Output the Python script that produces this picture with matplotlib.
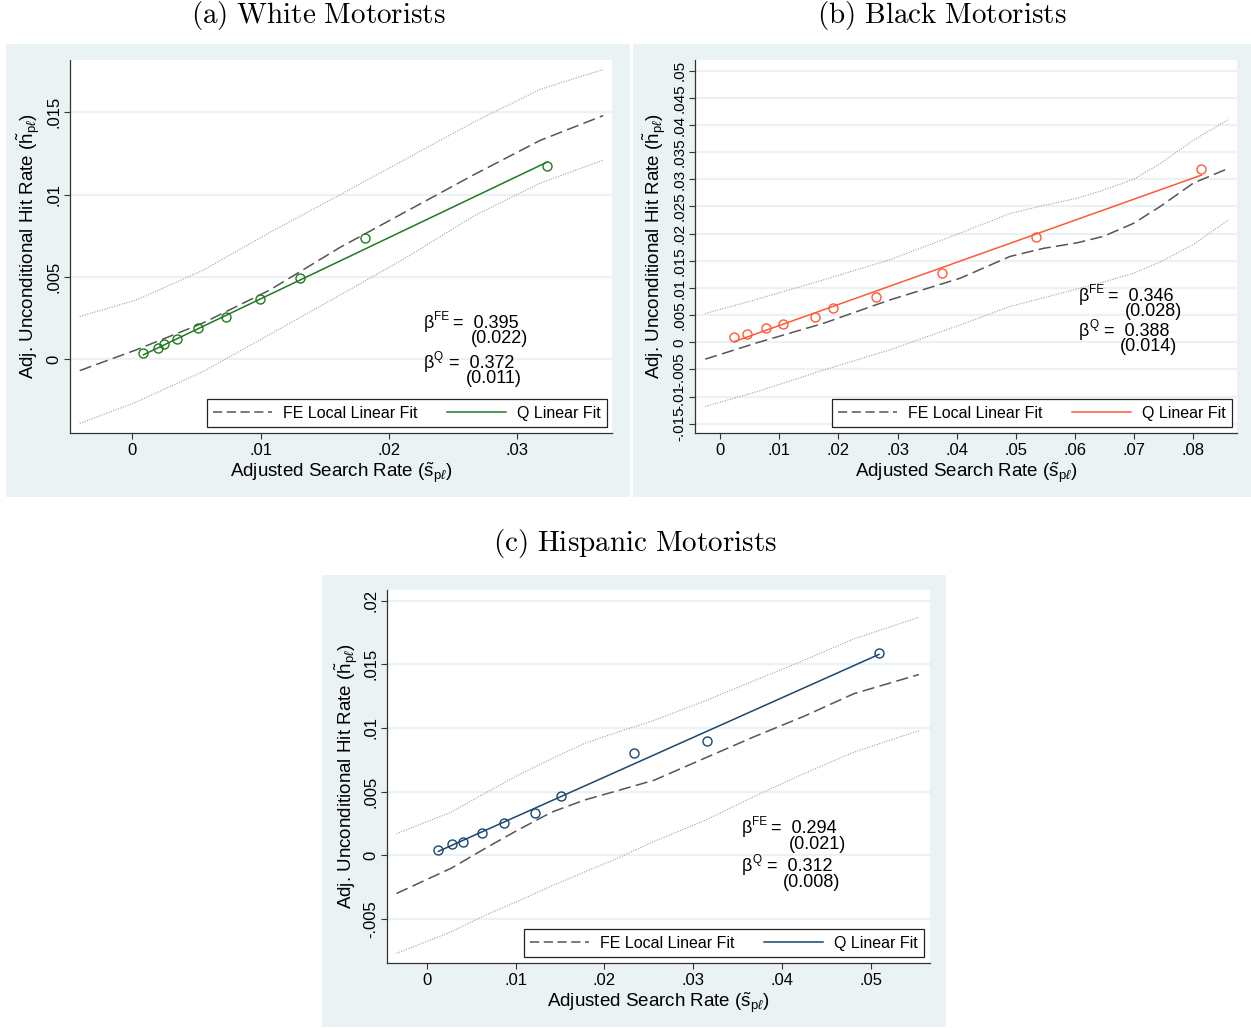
import matplotlib
matplotlib.use('Agg')
import matplotlib.pyplot as plt
from matplotlib.patches import Rectangle
from matplotlib.lines import Line2D

plt.rcParams['font.family'] = ['Liberation Sans', 'DejaVu Sans']
plt.rcParams['mathtext.fontset'] = 'custom'
plt.rcParams['mathtext.rm'] = 'Liberation Sans'
plt.rcParams['mathtext.it'] = 'Liberation Sans:italic'
plt.rcParams['mathtext.bf'] = 'Liberation Sans:bold'

# ---- (a) white motorists ----
white_s = [0.00086, 0.00197, 0.00244, 0.00348, 0.00509, 0.00727, 0.00995, 0.01306, 0.01815, 0.03234]
white_h = [0.00036, 0.00067, 0.00091, 0.00126, 0.00192, 0.00255, 0.00364, 0.00492, 0.00735, 0.01174]
white_grid = [-0.0041, 0.0003, 0.0055, 0.0107, 0.0162, 0.0214, 0.0266, 0.0318, 0.0367]
white_fe = [-0.00069, 0.00057, 0.0022, 0.0042, 0.0068, 0.0090, 0.0112, 0.0133, 0.0148]
white_hi = [0.0026, 0.0036, 0.0054, 0.0077, 0.0100, 0.0122, 0.0144, 0.0164, 0.0176]
white_lo = [-0.0039, -0.0026, -0.00075, 0.0015, 0.0039, 0.0062, 0.0087, 0.0107, 0.0121]
white_beta = ('0.395', '(0.022)', '0.372', '(0.011)')
white_q = (-0.00005, 0.372)
white_xticks = [0, 0.01, 0.02, 0.03]
white_xlabels = ['0', '.01', '.02', '.03']
white_yticks = [0, 0.005, 0.01, 0.015]
white_ylabels = ['0', '.005', '.01', '.015']

# ---- (b) black motorists ----
black_s = [0.00242, 0.00462, 0.00777, 0.01059, 0.0160, 0.01915, 0.02637, 0.03758, 0.05344, 0.08134]
black_h = [0.00092, 0.00147, 0.00258, 0.00337, 0.0046, 0.00626, 0.0084, 0.01282, 0.01945, 0.03184]
black_grid = [-0.0025, 0.0062, 0.0175, 0.0287, 0.0406, 0.0490, 0.0547, 0.0603, 0.0648, 0.0699, 0.0744, 0.0800, 0.0859]
black_fe = [-0.0031, -0.0001, 0.0035, 0.0078, 0.0118, 0.0158, 0.0173, 0.0183, 0.0195, 0.0219, 0.0250, 0.0293, 0.0320]
black_hi = [0.0053, 0.0079, 0.0115, 0.0152, 0.0201, 0.0237, 0.0252, 0.0265, 0.0280, 0.0300, 0.0329, 0.0372, 0.0410]
black_lo = [-0.0118, -0.0091, -0.0051, -0.0014, 0.0032, 0.0066, 0.0082, 0.0098, 0.0111, 0.0127, 0.0148, 0.0180, 0.0225]
black_beta = ('0.346', '(0.028)', '0.388', '(0.014)')
black_q = (-0.0008, 0.388)
black_xticks = [0, 0.01, 0.02, 0.03, 0.04, 0.05, 0.06, 0.07, 0.08]
black_xlabels = ['0', '.01', '.02', '.03', '.04', '.05', '.06', '.07', '.08']
black_yticks = [-0.015, -0.01, -0.005, 0, 0.005, 0.01, 0.015, 0.02, 0.025, 0.03, 0.035, 0.04, 0.045, 0.05]
black_ylabels = ['-.015', '-.01', '-.005', '0', '.005', '.01', '.015', '.02', '.025', '.03', '.035', '.04', '.045', '.05']

# ---- (c) hispanic motorists ----
hisp_s = [0.00131, 0.00289, 0.00413, 0.00623, 0.0087, 0.01223, 0.01508, 0.02338, 0.03157, 0.0509]
hisp_h = [0.00042, 0.00086, 0.00105, 0.00175, 0.00257, 0.0033, 0.00463, 0.00801, 0.00898, 0.01592]
hisp_grid = [-0.0034, 0.0028, 0.0066, 0.0103, 0.0141, 0.0178, 0.0216, 0.0256, 0.0312, 0.0368, 0.0424, 0.0481, 0.0554]
hisp_fe = [-0.0030, -0.0010, 0.00055, 0.0020, 0.0034, 0.00435, 0.0051, 0.0059, 0.0076, 0.0093, 0.0109, 0.0127, 0.0142]
hisp_hi = [0.0017, 0.0034, 0.0049, 0.0063, 0.0076, 0.0088, 0.0097, 0.0106, 0.0121, 0.0137, 0.0153, 0.0170, 0.0187]
hisp_lo = [-0.0077, -0.0060, -0.0047, -0.0036, -0.0024, -0.0013, -0.0002, 0.0011, 0.0027, 0.0046, 0.0064, 0.0081, 0.0098]
hisp_beta = ('0.294', '(0.021)', '0.312', '(0.008)')
hisp_q = (-0.0001, 0.312)
hisp_xticks = [0, 0.01, 0.02, 0.03, 0.04, 0.05]
hisp_xlabels = ['0', '.01', '.02', '.03', '.04', '.05']
hisp_yticks = [-0.005, 0, 0.005, 0.01, 0.015, 0.02]
hisp_ylabels = ['-.005', '0', '.005', '.01', '.015', '.02']

W, H = 1251, 1028
BG = '#EAF2F3'
FE_COLOR = '#555555'
CI_COLOR = '#a0a0a0'

fig = plt.figure(figsize=(W / 100, H / 100), dpi=100)


def px_axes(left, top, right, bottom):
    return fig.add_axes([left / W, 1 - bottom / H, (right - left) / W, (bottom - top) / H])


def bg_box(x0, y0, x1, y1):
    fig.add_artist(Rectangle((x0 / W, 1 - y1 / H), (x1 - x0) / W, (y1 - y0) / H,
                             transform=fig.transFigure, facecolor=BG,
                             edgecolor='none', zorder=-5))


def beta_line(ax, x, y, sup, rest, eq_dx):
    # beta with a small superscript, then "=  value" to its right
    kw = dict(xycoords='axes fraction', textcoords='offset pixels',
              va='center_baseline', ha='left')
    ax.annotate('β', (x, y), xytext=(0, 0), fontsize=13, **kw)
    ax.annotate(sup, (x, y), xytext=(10, 6), fontsize=8.5, **kw)
    ax.annotate(rest, (x, y), xytext=(eq_dx, 0), fontsize=13, **kw)


def draw_panel(ax, s, h, grid, fe, hi, lo, q, color, xlim, ylim,
               xticks, xlabels, yticks, ylabels, beta, tpos, leg_anchor,
               ytick_size=12):
    ax.set_facecolor('white')
    for y in yticks:
        ax.axhline(y, color=BG, lw=1.6, zorder=0)

    ax.plot(grid, hi, color=CI_COLOR, lw=0.8, ls=(0, (1, 1.3)), zorder=2)
    ax.plot(grid, lo, color=CI_COLOR, lw=0.8, ls=(0, (1, 1.3)), zorder=2)
    ax.plot(grid, fe, color=FE_COLOR, lw=1.1, ls=(0, (8, 3.5)), zorder=3)

    a, b = q
    xs = [min(s), max(s)]
    ax.plot(xs, [a + b * x for x in xs], color=color, lw=1.1, zorder=4)
    ax.plot(s, h, ls='none', marker='o', ms=6.5, mfc='none', mec=color,
            mew=1.0, zorder=5)

    ax.set_xlim(*xlim)
    ax.set_ylim(*ylim)
    ax.set_xticks(xticks)
    ax.set_xticklabels(xlabels)
    ax.set_yticks(yticks)
    ax.set_yticklabels(ylabels, rotation=90, va='center')
    ax.tick_params(axis='both', direction='out', length=4, width=0.8,
                   color='#333333', labelsize=12, labelcolor='black')
    ax.tick_params(axis='x', pad=3)
    ax.tick_params(axis='y', pad=2, labelsize=ytick_size)
    for side in ('top', 'right'):
        ax.spines[side].set_visible(False)
    for side in ('left', 'bottom'):
        ax.spines[side].set_color('#333333')
        ax.spines[side].set_linewidth(0.9)

    ax.set_xlabel('Adjusted Search Rate ($\\tilde{\\mathrm{s}}_{\\mathrm{p}\\ell}$)',
                  fontsize=13.5, labelpad=2)
    ax.set_ylabel('Adj. Unconditional Hit Rate ($\\tilde{\\mathrm{h}}_{\\mathrm{p}\\ell}$)',
                  fontsize=13.5, labelpad=3)

    bx, yfe, cfe, yfe2, yq, cq, yq2 = tpos
    beta_line(ax, bx, yfe, 'FE', '=  ' + beta[0], 29)
    ax.text(cfe, yfe2, beta[1], transform=ax.transAxes, fontsize=13,
            ha='center', va='center_baseline')
    beta_line(ax, bx, yq, 'Q', '=  ' + beta[2], 25)
    ax.text(cq, yq2, beta[3], transform=ax.transAxes, fontsize=13,
            ha='center', va='center_baseline')

    handles = [Line2D([], [], color=FE_COLOR, lw=1.1, ls=(0, (6, 3))),
               Line2D([], [], color=color, lw=1.1)]
    leg = ax.legend(handles, ['FE Local Linear Fit', 'Q Linear Fit'],
                    loc='lower right', bbox_to_anchor=leg_anchor, ncol=2,
                    fontsize=11.5, frameon=True, fancybox=False,
                    edgecolor='#222222', framealpha=1, borderaxespad=0,
                    handlelength=3.7, handletextpad=0.65, columnspacing=1.9,
                    borderpad=0.4)
    leg.get_frame().set_linewidth(0.9)


# grey panel backgrounds
bg_box(6, 44, 630, 497)
bg_box(633, 44, 1251, 497)
bg_box(322, 575, 946, 1027)

title_kw = dict(fontsize=21, ha='center', va='center', math_fontfamily='cm')
fig.text(318 / W, 1 - 15 / H, '$\\mathrm{(a)\\ White\\ Motorists}$', **title_kw)
fig.text(942 / W, 1 - 15 / H, '$\\mathrm{(b)\\ Black\\ Motorists}$', **title_kw)
fig.text(635 / W, 1 - 544 / H, '$\\mathrm{(c)\\ Hispanic\\ Motorists}$', **title_kw)

ax_a = px_axes(70, 60, 612, 433)
draw_panel(ax_a, white_s, white_h, white_grid, white_fe, white_hi, white_lo,
           white_q, '#1f7a1f', (-0.00486, 0.03739), (-0.00448, 0.01818),
           white_xticks, white_xlabels, white_yticks, white_ylabels, white_beta,
           (0.653, 0.300, 0.792, 0.258, 0.193, 0.782, 0.151),
           (1 - 5 / 542, 6 / 373))

ax_b = px_axes(695, 60, 1237, 433)
draw_panel(ax_b, black_s, black_h, black_grid, black_fe, black_hi, black_lo,
           black_q, '#ff5a36', (-0.00423, 0.08738), (-0.01669, 0.05196),
           black_xticks, black_xlabels, black_yticks, black_ylabels, black_beta,
           (0.7085, 0.372, 0.846, 0.330, 0.278, 0.836, 0.236),
           (1 - 5 / 542, 6 / 373), ytick_size=11)

ax_c = px_axes(387, 590, 930, 963)
draw_panel(ax_c, hisp_s, hisp_h, hisp_grid, hisp_fe, hisp_hi, hisp_lo,
           hisp_q, '#1a476f', (-0.00447, 0.05665), (-0.00846, 0.02084),
           hisp_xticks, hisp_xlabels, hisp_yticks, hisp_ylabels, hisp_beta,
           (0.654, 0.367, 0.7925, 0.324, 0.265, 0.782, 0.2225),
           (1 - 6 / 543, 6 / 373))

fig.savefig('out.png', dpi=100, facecolor='white')
